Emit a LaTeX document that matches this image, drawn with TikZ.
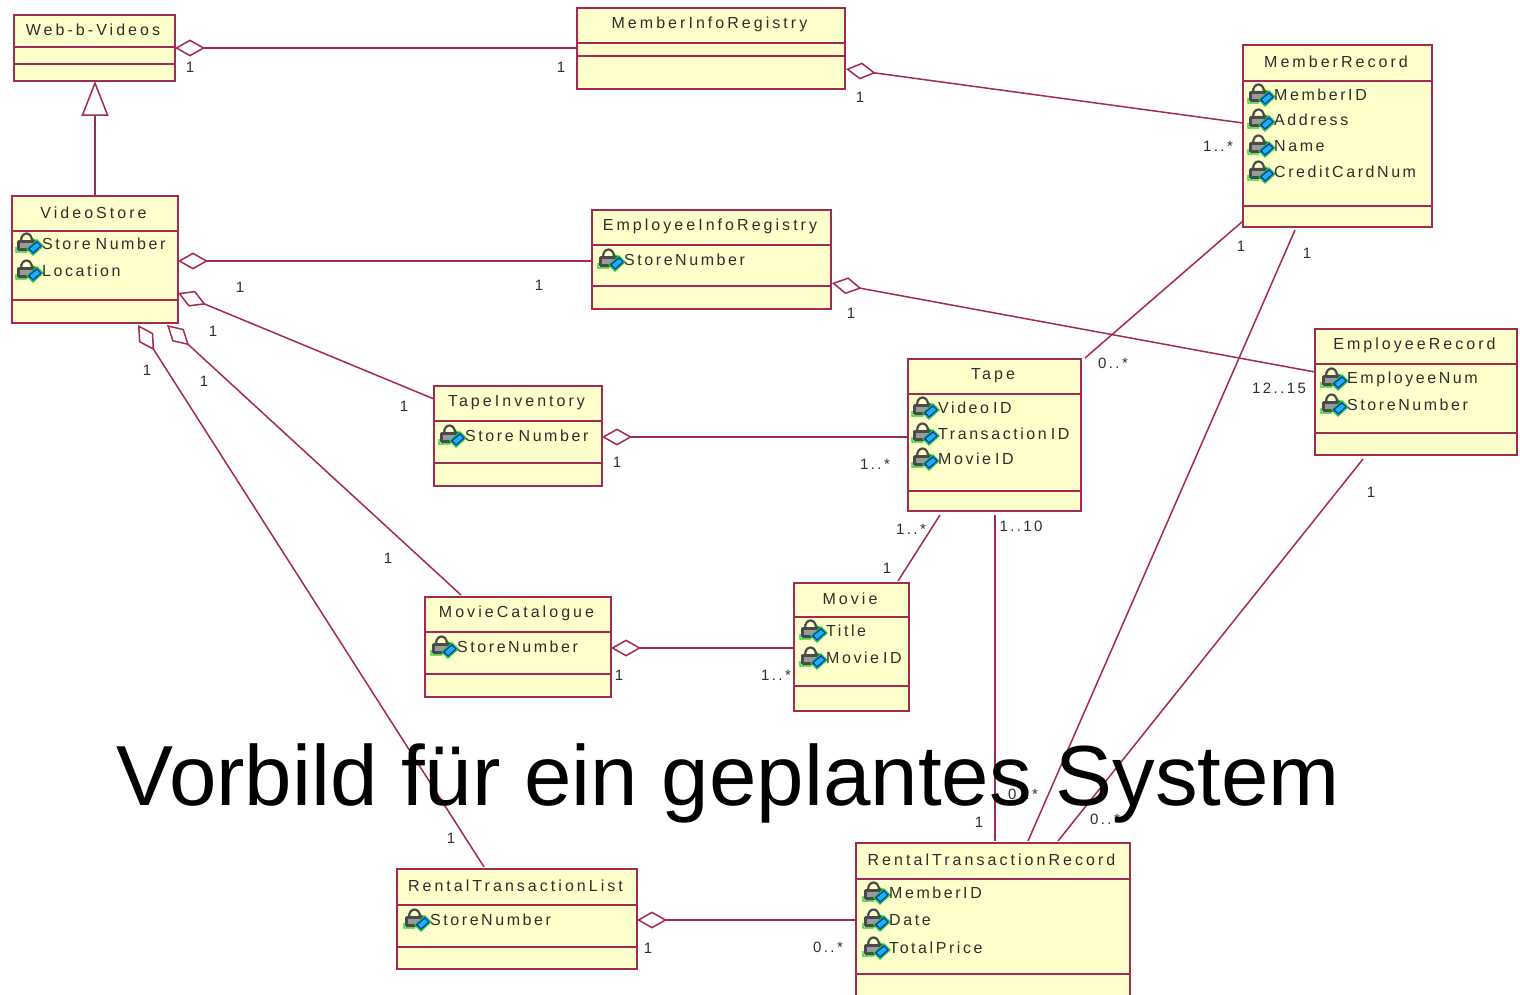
\documentclass[tikz,border=0pt]{standalone}
\usepackage{fontspec}
\setmainfont{Liberation Sans}
\newfontfamily\umlfont[LetterSpace=16]{Liberation Sans}
\newfontfamily\umltitlefont[LetterSpace=19]{Liberation Sans}
\usetikzlibrary{arrows.meta}
\definecolor{umlline}{HTML}{A32A50}
\definecolor{umlfill}{HTML}{FFFFCC}
\definecolor{umltext}{HTML}{2E2E2E}
\definecolor{lockdark}{HTML}{4A4A4A}
\definecolor{lockgrey}{HTML}{9A9A9A}
\definecolor{keyblue}{HTML}{19B4F0}
\definecolor{keyedge}{HTML}{1030C0}
\definecolor{keyhalo}{HTML}{10D030}
\tikzset{
  x=1pt,y=-1pt,
  classbox/.style={draw=umlline,fill=umlfill,line width=1.6pt,rectangle,inner sep=0pt,outer sep=0pt,anchor=north west},
  seprule/.style={draw=umlline,line width=1.6pt},
  titletext/.style={font=\umltitlefont\fontsize{16}{18}\selectfont,text=umltext,inner sep=0pt,anchor=center},
  attrtext/.style={font=\umlfont\fontsize{16}{18}\selectfont,text=umltext,inner sep=0pt,anchor=west},
  mult/.style={font=\umlfont\fontsize{15}{17}\selectfont,text=umltext,inner sep=0pt,anchor=center},
  conn/.style={draw=umlline,line width=1.5pt},
  aggr/.style={conn,{Diamond[open,length=30pt,width=17pt,line width=1.5pt]}-},
  inherit/.style={conn,-{Triangle[open,length=35pt,width=27pt,line width=1.5pt]}},
  lockicon/.pic={
    \draw[keyhalo,line width=1.2pt] (14,-6) -- (20,-3) (-1,3) -- (-1,8) -- (10,8);
    \draw[lockdark,line width=2.2pt] (4,-3) .. controls (4,-13) and (15,-13) .. (15,-3);
    \fill[lockdark,rounded corners=1.5pt] (0,-4) rectangle (19,7);
    \fill[lockgrey] (3,-1) rectangle (15,4);
    \draw[keyhalo,line width=1.2pt] (10,5) -- (20,-4) -- (26,2) -- (16,11) -- cycle;
    \fill[keyedge] (11,4.5) -- (20,-3) -- (25,2) -- (16,10) -- cycle;
    \fill[keyblue] (13,4.5) -- (20,-1) -- (23,2) -- (16,8) -- cycle;
  }
}
\newcommand{\umlclass}[8]{%
  \pgfmathsetlengthmacro{\boxw}{(#4-#2)*1pt}%
  \pgfmathsetlengthmacro{\boxh}{(#5-#3)*1pt}%
  \node[classbox,minimum width=\boxw,minimum height=\boxh] (#1) at (#2,#3) {};
  \path[seprule] (#2,#6) -- (#4,#6) (#2,#7) -- (#4,#7);
  \pgfmathsetmacro{\titlex}{(#2+#4)/2-1.5}%
  \pgfmathsetmacro{\titley}{(#3+#6)/2-1.2}%
  \node[titletext] (#1t) at (\titlex,\titley) {#8};
}
\newcommand{\umlattr}[4]{%
  \pic at (#2,#3) {lockicon};
  \node[attrtext] (#1) at (#2+25,#3) {#4};
}
\begin{document}
\begin{tikzpicture}
\useasboundingbox (0,0) rectangle (1520,995);
\clip (0,0) rectangle (1520,995);
\fill[white] (0,0) rectangle (1520,995);

\umlclass{wv}{14}{15}{175}{81}{47}{64}{Web-b-Videos}
\umlclass{mir}{577}{8}{845}{89}{43}{56}{MemberInfoRegistry}
\umlclass{mr}{1243}{45}{1432}{227}{81}{206}{MemberRecord}
\umlclass{vs}{12}{196}{178}{323}{231}{300}{VideoStore}
\umlclass{eir}{592}{210}{831}{309}{245}{286}{EmployeeInfoRegistry}
\umlclass{ti}{434}{386}{602}{486}{421}{463}{TapeInventory}
\umlclass{tape}{908}{359}{1081}{511}{394}{491}{Tape}
\umlclass{er}{1315}{329}{1517}{455}{364}{433}{EmployeeRecord}
\umlclass{mc}{425}{597}{611}{697}{632}{674}{MovieCatalogue}
\umlclass{mov}{794}{583}{909}{711}{617}{686}{Movie}
\umlclass{rtl}{397}{869}{637}{969}{905}{947}{RentalTransactionList}
\umlclass{rtr}{856}{843}{1130}{1010}{879}{974}{RentalTransactionRecord}

\umlattr{mra}{1249}{95}{MemberID}
\umlattr{mrb}{1249}{120}{Address}
\umlattr{mrc}{1249}{146}{Name}
\umlattr{mrd}{1249}{172}{CreditCardNum}
\umlattr{vsa}{17}{244}{Store\kern-2pt{} Number}
\umlattr{vsb}{17}{271}{Location}
\umlattr{eira}{599}{260}{StoreNumber}
\umlattr{tia}{440}{436}{Store\kern-2pt{} Number}
\umlattr{tapea}{913}{408}{Video\kern-3pt{} ID}
\umlattr{tapeb}{913}{434}{Transaction\kern-3pt{} ID}
\umlattr{tapec}{913}{459}{Movie\kern-3pt{} ID}
\umlattr{era}{1322}{379}{EmployeeNum}
\umlattr{erb}{1322}{405}{StoreNumber}
\umlattr{mca}{432}{647}{StoreNumber}
\umlattr{mova}{801}{631}{Title}
\umlattr{movb}{801}{658}{Movie\kern-3pt{} ID}
\umlattr{rtla}{405}{920}{StoreNumber}
\umlattr{rtra}{864}{893}{MemberID}
\umlattr{rtrb}{864}{920}{Date}
\umlattr{rtrc}{864}{948}{TotalPrice}

\draw[aggr] (wv.east |- 0,48) -- (mir.west |- 0,48);
\draw[aggr] ([xshift=1pt,yshift=20pt]mir.south east) -- ([yshift=-78pt]mr.north west);
\draw[inherit] (vs.north -| 95,0) -- (wv.south -| 95,0);
\draw[aggr] (vs.east |- 0,261) -- (eir.west |- 0,261);
\draw[aggr] ([yshift=30pt]vs.south east) -- ([yshift=-13pt]ti.north west);
\draw[aggr] (ti.east |- 0,437) -- (tape.west |- 0,437);
\draw[aggr] ([xshift=155pt,yshift=-2pt]vs.south west) -- ([xshift=36pt,yshift=2pt]mc.north west);
\draw[aggr] ([xshift=126pt,yshift=-2pt]vs.south west) -- ([xshift=87pt,yshift=2pt]rtl.north west);
\draw[aggr] (mc.east |- 0,648) -- (mov.west |- 0,648);
\draw[aggr] (rtl.east |- 0,920) -- (rtr.west |- 0,920);
\draw[aggr] ([xshift=1pt,yshift=26pt]eir.south east) -- ([yshift=-43pt]er.north west);
\draw[conn] ([xshift=4pt,yshift=1pt]tape.north east) -- ([yshift=6pt]mr.south west);
\draw[conn] ([xshift=-11pt,yshift=2pt]mov.north east) -- ([xshift=32pt,yshift=-4pt]tape.south west);
\draw[conn] ([xshift=87pt,yshift=-4pt]tape.south west) -- ([xshift=139pt,yshift=2pt]rtr.north west);
\draw[conn] ([xshift=52pt,yshift=-3pt]mr.south west) -- ([xshift=172pt,yshift=2pt]rtr.north west);
\draw[conn] ([xshift=48pt,yshift=-4pt]er.south west) -- ([xshift=202pt,yshift=2pt]rtr.north west);

\node[mult] (m01) at (190,67) {1};
\node[mult] (m02) at (561,67) {1};
\node[mult] (m03) at (860,97) {1};
\node[mult] (m04) at (1218,146) {1..*};
\node[mult] (m05) at (240,287) {1};
\node[mult] (m06) at (539,285) {1};
\node[mult] (m07) at (213,331) {1};
\node[mult] (m08) at (404,406) {1};
\node[mult] (m09) at (851,313) {1};
\node[mult] (m10) at (1279,388) {12..15};
\node[mult] (m11) at (1241,246) {1};
\node[mult] (m12) at (1113,363) {0..*};
\node[mult] (m13) at (1307,253) {1};
\node[mult] (m14) at (617,462) {1};
\node[mult] (m15) at (875,464) {1..*};
\node[mult] (m16) at (147,370) {1};
\node[mult] (m17) at (204,381) {1};
\node[mult] (m18) at (388,558) {1};
\node[mult] (m19) at (911,529) {1..*};
\node[mult] (m20) at (1021,526) {1..10};
\node[mult] (m21) at (887,568) {1};
\node[mult] (m22) at (1371,492) {1};
\node[mult] (m23) at (619,675) {1};
\node[mult] (m24) at (776,675) {1..*};
\node[mult] (m25) at (1023,794) {0..*};
\node[mult] (m26) at (979,822) {1};
\node[mult] (m27) at (1105,819) {0..*};
\node[mult] (m28) at (451,838) {1};
\node[mult] (m29) at (648,948) {1};
\node[mult] (m30) at (828,947) {0..*};

\node[font=\fontsize{85.3}{90}\selectfont,text=black,inner sep=0pt] (headline) at (728.5,783) {Vorbild für ein geplantes System};
\end{tikzpicture}
\end{document}
